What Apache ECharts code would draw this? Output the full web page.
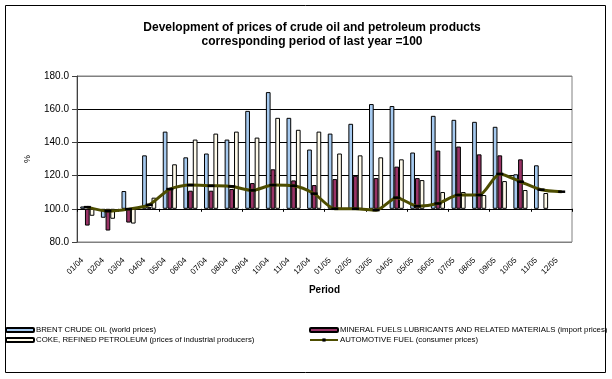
<!DOCTYPE html>
<html>
<head>
<meta charset="utf-8">
<script src="https://cdn.jsdelivr.net/npm/echarts@6/dist/echarts.min.js"></script>
<style>
html,body{margin:0;padding:0;background:#fff;}
#c{width:612px;height:379px;}
</style>
</head>
<body>
<div id="c"></div>
<script>
const categories = ['01/04','02/04','03/04','04/04','05/04','06/04','07/04','08/04','09/04','10/04','11/04','12/04',
                    '01/05','02/05','03/05','04/05','05/05','06/05','07/05','08/05','09/05','10/05','11/05','12/05'];
const brent = [101.4, 94.6, 110.7, 132.2, 146.5, 131.0, 133.3, 141.7, 159.0, 170.3, 154.8, 135.7,
               145.3, 151.2, 163.1, 161.9, 133.9, 156.0, 153.6, 152.4, 149.4, 120.8, 126.2, null];
const mineral = [89.9, 86.9, 91.7, 101.0, 112.5, 110.9, 110.9, 111.9, 115.5, 123.8, 117.1, 114.3,
                 117.9, 119.9, 118.5, 125.4, 118.5, 135.1, 137.5, 132.8, 132.2, 129.8, null, null];
const coke = [95.8, 94.0, 91.1, 106.7, 126.8, 141.7, 145.3, 146.5, 142.9, 154.8, 147.6, 146.5,
              133.3, 132.2, 131.0, 129.8, 117.3, 110.1, 110.1, 108.3, 116.7, 111.3, 109.5, null];
const automotive = [101.0, 98.6, 99.8, 102.4, 111.9, 114.3, 113.9, 113.5, 111.1, 114.3, 113.9, 109.1,
                    100.0, 100.0, 99.2, 106.7, 101.6, 103.2, 108.3, 108.3, 121.0, 116.3, 111.5, 110.3];
const yTicks = [80, 100, 120, 140, 160, 180];
const BASE = 100;

const dev = arr => arr.map(v => v == null ? null : +(v - BASE).toFixed(2));

const chart = echarts.init(document.getElementById('c'), null, {renderer: 'canvas'});
const FONT = 'Liberation Sans, Arial, sans-serif';

const barCommon = {
  type: 'bar', xAxisIndex: 0, barWidth: 4.7, barGap: '0%',
  itemStyle: {borderColor: '#000', borderWidth: 1},
  emphasis: {disabled: true}
};

chart.setOption({
  animation: false,
  textStyle: {fontFamily: FONT},
  graphic: [
    {type: 'rect', shape: {x: 5.5, y: 5.5, width: 600, height: 367}, style: {fill: 'none', stroke: '#000', lineWidth: 1}, z: -1},
    {type: 'text', x: 312, y: 21, style: {text: 'Development of prices of crude oil and petroleum products\ncorresponding period of last year =100',
      font: 'bold 12px ' + FONT, fill: '#000', textAlign: 'center', lineHeight: 14}}
  ],
  grid: {left: 77, right: 40, top: 76, bottom: 137, show: true, borderColor: '#808080', borderWidth: 1, containLabel: false},
  legend: [
    {left: 0, top: 321, orient: 'vertical', itemGap: 2, itemWidth: 28, itemHeight: 4,
     textStyle: {fontSize: 7.8, fontFamily: FONT, color: '#000', padding: [0,0,0,-3]},
     data: ['BRENT CRUDE OIL (world prices)', 'COKE, REFINED PETROLEUM (prices of industrial producers)']},
    {left: 304, top: 321, orient: 'vertical', itemGap: 2, itemWidth: 28, itemHeight: 4,
     textStyle: {fontSize: 7.8, fontFamily: FONT, color: '#000', padding: [0,0,0,-3]},
     data: ['MINERAL FUELS LUBRICANTS AND RELATED MATERIALS (import prices)', 'AUTOMOTIVE FUEL (consumer prices)']}
  ],
  xAxis: [
    {type: 'category', data: categories, position: 'bottom',
     axisLine: {onZero: true, lineStyle: {color: '#000', width: 1}},
     axisTick: {show: true, alignWithLabel: false, length: 3, lineStyle: {color: '#000'}},
     axisLabel: {show: false}, splitLine: {show: false}},
    {type: 'category', data: categories, position: 'bottom', gridIndex: 0,
     axisLine: {show: false, onZero: false}, axisTick: {show: false},
     axisLabel: {show: true, rotate: 45, fontSize: 8, color: '#000', margin: 12, interval: 0, fontFamily: FONT, padding: [0, 7, 0, 0]},
     name: 'Period', nameLocation: 'middle', nameGap: 43,
     nameTextStyle: {fontWeight: 'bold', fontSize: 10, color: '#000', fontFamily: FONT}}
  ],
  yAxis: {
    type: 'value', min: yTicks[0] - BASE, max: yTicks[yTicks.length - 1] - BASE, interval: 20,
    axisLine: {show: true, lineStyle: {color: '#404040'}},
    axisTick: {show: true, inside: false, length: 5, lineStyle: {color: '#404040'}},
    axisLabel: {formatter: v => (v + BASE).toFixed(1), fontSize: 10, color: '#000', margin: 8, fontFamily: FONT},
    splitLine: {show: true, lineStyle: {color: ['#808080', '#000', '#000', '#000', '#000', '#808080'], width: 1}},
    name: '%', nameLocation: 'middle', nameGap: 45, nameRotate: 90,
    nameTextStyle: {fontSize: 9, color: '#000', fontFamily: FONT}
  },
  series: [
    Object.assign({}, barCommon, {name: 'BRENT CRUDE OIL (world prices)', data: dev(brent),
      itemStyle: {color: '#a6caf0', borderColor: '#000', borderWidth: 1}}),
    Object.assign({}, barCommon, {name: 'MINERAL FUELS LUBRICANTS AND RELATED MATERIALS (import prices)', data: dev(mineral),
      itemStyle: {color: '#993366', borderColor: '#000', borderWidth: 1}}),
    Object.assign({}, barCommon, {name: 'COKE, REFINED PETROLEUM (prices of industrial producers)', data: dev(coke),
      itemStyle: {color: '#fffbeb', borderColor: '#000', borderWidth: 1}}),
    {type: 'line', name: 'AUTOMOTIVE FUEL (consumer prices)', xAxisIndex: 0, data: dev(automotive),
     smooth: 0.25, symbol: 'rect', symbolSize: [7, 2.5], showSymbol: true,
     lineStyle: {color: '#4d4d00', width: 3}, itemStyle: {color: '#000'}, z: 5,
     emphasis: {disabled: true}}
  ]
});
</script>
</body>
</html>
